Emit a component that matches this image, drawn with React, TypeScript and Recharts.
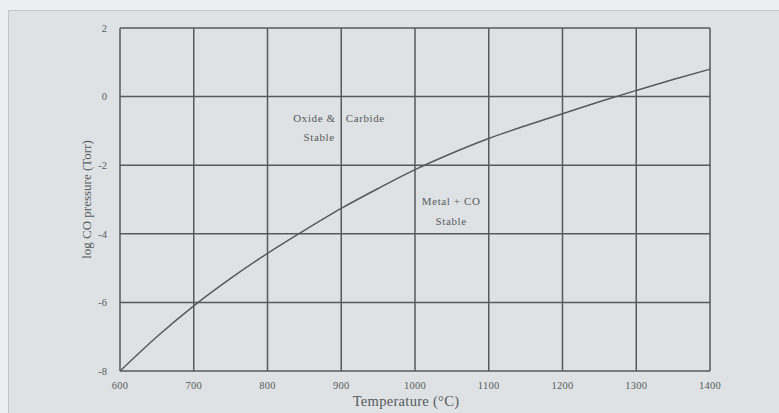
import React from 'react';
import { LineChart, Line, XAxis, YAxis, CartesianGrid, ReferenceDot } from 'recharts';

// temperature (°C) and log CO pressure (Torr)
const temperatures = [600, 650, 700, 750, 800, 850, 900, 950, 1000, 1050, 1100, 1150, 1200, 1250, 1300, 1350, 1400];
const logPressure = [-8, -7.0, -6.1, -5.3, -4.57, -3.9, -3.26, -2.68, -2.13, -1.65, -1.22, -0.85, -0.5, -0.15, 0.18, 0.5, 0.8];
const xTicks = [600, 700, 800, 900, 1000, 1100, 1200, 1300, 1400];
const yTicks = [-8, -6, -4, -2, 0, 2];

const labels = [
  { x: 897, y: -0.64, text: 'Oxide &\u00a0\u00a0 Carbide' },
  { x: 870, y: -1.19, text: 'Stable' },
  { x: 1049, y: -3.04, text: 'Metal + CO' },
  { x: 1049, y: -3.62, text: 'Stable' },
];

const INK = '#555a5e';
const FONT = '"Liberation Serif", "DejaVu Serif", serif';

const data = temperatures.map((t, i) => ({ t, p: logPressure[i] }));

const App: React.FC = () => {
  return (
    <div
      style={{
        position: 'absolute',
        left: 0,
        top: 0,
        width: 779,
        height: 413,
        background: '#eceeef',
        overflow: 'hidden',
      }}
    >
      <div
        style={{
          position: 'absolute',
          left: 8,
          top: 10,
          width: 779,
          height: 420,
          background: '#dfe2e4',
          borderLeft: '1px solid #c3c6c8',
          borderTop: '1px solid #c3c6c8',
        }}
      />
      <div style={{ position: 'absolute', left: 0, top: 0 }}>
        <LineChart
          width={779}
          height={413}
          data={data}
          margin={{ top: 28, right: 69, left: 0, bottom: 0 }}
        >
          <CartesianGrid stroke={INK} strokeWidth={1.5} />
          <XAxis
            dataKey="t"
            type="number"
            domain={[600, 1400]}
            ticks={xTicks}
            axisLine={false}
            tickLine={false}
            height={42}
            tickMargin={5}
            tick={{ fill: INK, fontSize: 10.5, fontFamily: FONT, letterSpacing: 0.3 }}
            label={{
              value: 'Temperature (°C)',
              position: 'insideBottom',
              offset: 7,
              dx: -9,
              fill: INK,
              fontSize: 14.5,
              fontFamily: FONT,
              letterSpacing: 0.3,
            }}
          />
          <YAxis
            type="number"
            domain={[-8, 2]}
            ticks={yTicks}
            axisLine={false}
            tickLine={false}
            width={120}
            tickMargin={7}
            tick={{ fill: INK, fontSize: 10.5, fontFamily: FONT }}
            label={{
              value: 'log CO pressure (Torr)',
              angle: -90,
              position: 'insideLeft',
              offset: 86,
              style: { textAnchor: 'middle' },
              fill: INK,
              fontSize: 13,
              fontFamily: FONT,
            }}
          />
          {labels.map((l, i) => (
            <ReferenceDot
              key={i}
              x={l.x}
              y={l.y}
              r={0}
              stroke="none"
              label={{
                value: l.text,
                position: 'center',
                fill: INK,
                fontSize: 11,
                fontFamily: FONT,
                letterSpacing: 0.6,
              }}
            />
          ))}
          <Line
            type="monotone"
            dataKey="p"
            stroke={INK}
            strokeWidth={1.5}
            dot={false}
            isAnimationActive={false}
          />
        </LineChart>
      </div>
    </div>
  );
};

export default App;
